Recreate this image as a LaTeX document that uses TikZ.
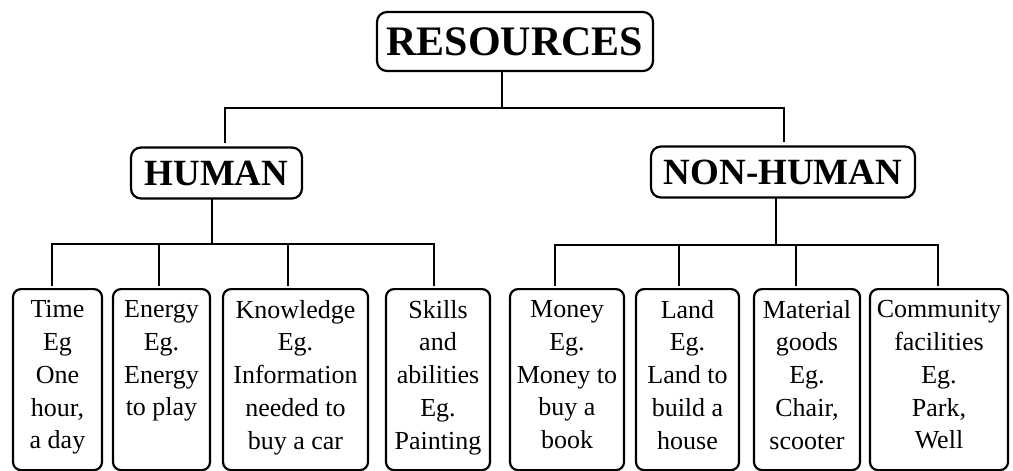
\documentclass[tikz,border=0pt]{standalone}
\usepackage{fontspec}
\setmainfont{Liberation Serif}
\usetikzlibrary{positioning,calc}

\tikzset{
  headbox/.style={draw,line width=1.1pt,rounded corners=5pt,inner sep=0pt,
    font=\bfseries\fontsize{21}{24}\selectfont,minimum width=138pt,minimum height=29.5pt},
  groupbox/.style={draw,line width=1.1pt,rounded corners=5pt,inner sep=0pt,
    font=\bfseries\fontsize{18.5}{22}\selectfont,minimum height=25.5pt},
  leaf/.style={draw,line width=1.1pt,rounded corners=4pt,inner sep=0pt,anchor=north,
    align=center,font=\fontsize{13}{16.4}\selectfont,minimum height=90.5pt,
    execute at begin node=\strut,execute at end node=\strut},
  link/.style={line width=1pt,line cap=rect}
}

\begin{document}
\begin{tikzpicture}[x=0.5pt,y=0.5pt]
  \useasboundingbox (0,0) rectangle (1013,-471);

  % top and second level
  \node[headbox] (res) at (515,-41.5) {RESOURCES};
  \node[groupbox,minimum width=85.5pt] (hum) at (216.5,-173) {HUMAN};
  \node[groupbox,minimum width=132pt] (nonhum) at (783,-172) {NON-HUMAN};

  % leaves
  \node[leaf,minimum width=44.5pt] (time) at (57.5,-288) {Time\\Eg\\One\\hour,\\a day};
  \node[leaf,minimum width=48.5pt] (energy) at (161.5,-288) {Energy\\Eg.\\Energy\\to play\\~};
  \node[leaf,minimum width=72.5pt] (know) at (295.5,-288) {Knowledge\\Eg.\\Information\\needed to\\buy a car};
  \node[leaf,minimum width=52pt] (skill) at (438,-288) {Skills\\and\\abilities\\Eg.\\Painting};
  \node[leaf,minimum width=57pt] (money) at (567,-288) {Money\\Eg.\\Money to\\buy a\\book};
  \node[leaf,minimum width=51.5pt] (land) at (687.5,-288) {Land\\Eg.\\Land to\\build a\\house};
  \node[leaf,minimum width=53pt] (goods) at (807,-288) {Material\\goods\\Eg.\\Chair,\\scooter};
  \node[leaf,minimum width=69pt] (comm) at (939,-288) {Community\\facilities\\Eg.\\Park,\\Well};

  % first split
  \coordinate (top) at (502,-108);
  \coordinate (hb) at (225,-108);
  \coordinate (nb) at (784,-108);
  \draw[link] (res.south -| top) -- (top);
  \draw[link] (hb) -- (nb);
  \draw[link,shorten >=2pt] (hb) -- (hb |- hum.north);
  \draw[link,shorten >=2pt] (nb) -- (nb |- nonhum.north);

  % human branch
  \coordinate (hj) at (212,-244);
  \draw[link] (hum.south -| hj) -- (hj);
  \foreach \n/\x in {time/52,energy/159,know/288,skill/434}{
    \coordinate (d-\n) at (\x,-244);
    \draw[link,shorten >=1.5pt] (d-\n) -- (d-\n |- \n.north);
  }
  \draw[link] (d-time) -- (d-skill);

  % non-human branch
  \coordinate (nj) at (776,-245);
  \draw[link] (nonhum.south -| nj) -- (nj);
  \foreach \n/\x in {money/555,land/679,goods/796,comm/938}{
    \coordinate (d-\n) at (\x,-245);
    \draw[link,shorten >=1.5pt] (d-\n) -- (d-\n |- \n.north);
  }
  \draw[link] (d-money) -- (d-comm);
\end{tikzpicture}
\end{document}
